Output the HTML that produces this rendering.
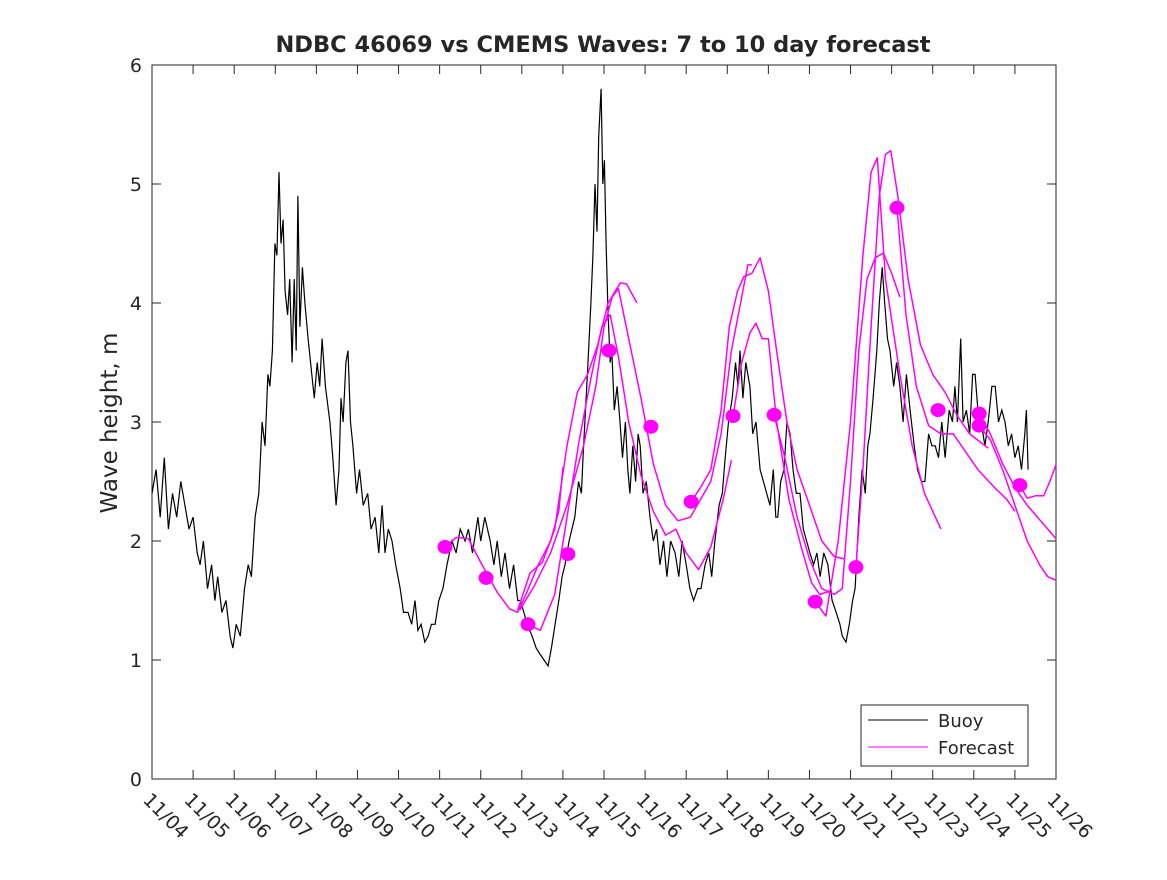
<!DOCTYPE html>
<html><head><meta charset="utf-8"><style>
html,body{margin:0;padding:0;background:#fff;}
svg text{font-family:"DejaVu Sans","Liberation Sans",sans-serif;fill:#262626;}
</style></head><body>
<svg id="chart" width="1167" height="875" viewBox="0 0 1167 875" xmlns="http://www.w3.org/2000/svg">
<rect width="1167" height="875" fill="#fff"/>
<text x="603" y="52" text-anchor="middle" font-size="22.5" font-weight="bold" fill="#000">NDBC 46069 vs CMEMS Waves: 7 to 10 day forecast</text>
<text transform="translate(117,423) rotate(-90)" text-anchor="middle" font-size="23">Wave height, m</text>
<g id="axes"></g>
<g id="plot"></g>
</svg>
<script>
const xTickLabels=["11/04","11/05","11/06","11/07","11/08","11/09","11/10","11/11","11/12","11/13","11/14","11/15","11/16","11/17","11/18","11/19","11/20","11/21","11/22","11/23","11/24","11/25","11/26"];
const yTicks=[0,1,2,3,4,5,6];
const buoyDays=[0,0.1,0.2,0.3,0.4,0.5,0.6,0.7,0.8,0.9,1.0,1.1,1.17,1.25,1.35,1.45,1.53,1.6,1.7,1.8,1.9,1.97,2.05,2.15,2.25,2.34,2.42,2.51,2.6,2.68,2.75,2.82,2.87,2.93,2.99,3.04,3.09,3.14,3.19,3.24,3.3,3.35,3.41,3.46,3.51,3.55,3.6,3.66,3.72,3.8,3.89,3.95,4.02,4.08,4.14,4.22,4.33,4.4,4.48,4.55,4.6,4.65,4.72,4.77,4.83,4.89,4.98,5.05,5.14,5.25,5.33,5.43,5.52,5.6,5.67,5.75,5.84,5.93,6.04,6.12,6.23,6.32,6.4,6.47,6.55,6.64,6.72,6.8,6.89,6.98,7.08,7.18,7.3,7.4,7.5,7.62,7.7,7.8,7.93,8.0,8.1,8.23,8.32,8.4,8.5,8.59,8.7,8.8,8.9,8.96,9.05,9.13,9.25,9.35,9.44,9.54,9.64,9.72,9.81,9.9,9.98,10.05,10.15,10.22,10.29,10.38,10.45,10.49,10.55,10.61,10.68,10.73,10.78,10.83,10.87,10.93,10.97,11.01,11.05,11.1,11.15,11.19,11.25,11.32,11.39,11.45,11.52,11.58,11.63,11.7,11.77,11.83,11.88,11.95,12.03,12.12,12.2,12.28,12.36,12.45,12.53,12.62,12.73,12.82,12.9,13.0,13.09,13.18,13.28,13.36,13.46,13.55,13.62,13.7,13.8,13.88,13.95,14.03,14.12,14.2,14.26,14.31,14.38,14.45,14.55,14.62,14.7,14.8,14.88,14.96,15.04,15.12,15.18,15.23,15.3,15.38,15.45,15.53,15.6,15.68,15.77,15.85,15.93,16.01,16.1,16.18,16.26,16.35,16.45,16.55,16.65,16.74,16.8,16.89,16.97,17.05,17.11,17.2,17.28,17.36,17.42,17.47,17.55,17.64,17.7,17.77,17.83,17.9,17.96,18.05,18.12,18.2,18.28,18.36,18.45,18.55,18.63,18.72,18.81,18.9,18.98,19.06,19.14,19.22,19.3,19.4,19.48,19.54,19.6,19.68,19.74,19.82,19.9,19.97,20.03,20.1,20.18,20.27,20.35,20.44,20.52,20.6,20.68,20.76,20.84,20.92,21.0,21.08,21.16,21.24,21.28,21.32];
const buoyVals=[2.4,2.6,2.2,2.7,2.1,2.4,2.2,2.5,2.3,2.1,2.2,1.9,1.8,2.0,1.6,1.8,1.5,1.7,1.4,1.5,1.2,1.1,1.3,1.2,1.6,1.8,1.7,2.2,2.4,3.0,2.8,3.4,3.3,3.6,4.5,4.4,5.1,4.5,4.7,4.1,3.9,4.2,3.5,4.2,3.6,4.9,3.8,4.3,4.0,3.7,3.4,3.2,3.5,3.3,3.7,3.3,3.0,2.7,2.3,2.6,3.2,3.0,3.5,3.6,3.0,2.8,2.4,2.6,2.3,2.4,2.1,2.2,1.9,2.3,1.9,2.1,2.0,1.8,1.6,1.4,1.4,1.3,1.5,1.25,1.3,1.15,1.2,1.3,1.3,1.5,1.6,1.8,2.0,1.9,2.1,2.0,2.1,1.9,2.2,2.0,2.2,2.0,1.8,2.0,1.7,1.9,1.6,1.8,1.5,1.5,1.4,1.3,1.2,1.1,1.05,1.0,0.95,1.1,1.3,1.5,1.7,1.8,2.0,2.1,2.2,2.5,2.4,2.7,3.1,3.5,4.0,4.4,5.0,4.6,5.4,5.8,5.0,5.2,4.5,3.9,3.5,3.6,3.1,3.3,3.0,2.7,3.0,2.6,2.4,2.8,2.5,2.9,2.8,2.4,2.5,2.2,2.0,2.1,1.8,2.0,1.7,2.0,1.9,1.7,2.0,1.8,1.6,1.5,1.6,1.6,1.8,1.9,1.7,2.0,2.3,2.4,2.7,3.0,3.2,3.5,3.3,3.6,3.2,3.5,3.3,2.9,3.0,2.6,2.5,2.4,2.3,2.6,2.2,2.2,2.5,2.6,3.0,2.9,2.6,2.4,2.4,2.1,2.0,1.9,1.8,1.9,1.7,1.9,1.8,1.5,1.4,1.3,1.2,1.15,1.3,1.5,1.6,2.2,2.6,2.4,2.8,2.9,3.2,3.6,4.0,4.3,4.0,3.7,3.6,3.3,3.5,3.3,3.0,3.4,3.1,2.8,2.6,2.5,2.5,2.9,2.8,2.8,2.7,3.0,2.7,3.1,3.0,3.3,3.0,3.7,3.0,3.1,2.9,3.4,3.4,3.1,3.0,2.8,3.0,3.3,3.3,3.0,3.1,3.0,2.8,2.9,2.7,2.8,2.6,2.9,3.1,2.6];
const forecast1=[[7.13,1.95],[7.4,2.03],[7.7,2.02],[8.0,1.82],[8.4,1.57],[8.7,1.43],[8.9,1.40],[9.1,1.55],[9.4,1.8],[9.7,2.0],[9.9,2.25],[10.0,2.62]];
const forecast2=[[8.9,1.42],[9.2,1.73],[9.5,1.82],[9.8,2.1],[10.1,2.8],[10.35,3.25],[10.6,3.4],[10.85,3.65],[11.1,4.0],[11.4,4.17],[11.55,4.16],[11.8,4.0]];
const forecast3=[[8.95,1.42],[9.3,1.62],[9.7,1.9],[10.1,2.3],[10.5,2.8],[10.8,3.3],[11.0,3.8],[11.2,4.05],[11.35,4.12],[11.6,3.7],[11.9,3.2],[12.2,2.65],[12.5,2.3],[12.8,2.17],[13.1,2.2],[13.35,2.35],[13.6,2.5],[13.85,2.9],[14.1,3.6],[14.35,4.05],[14.5,4.32],[14.6,4.32]];
const forecast4=[[9.15,1.3],[9.45,1.25],[9.8,1.55],[10.1,2.2],[10.4,2.85],[10.7,3.4],[10.95,3.8],[11.15,3.9],[11.35,3.55],[11.6,3.0],[11.9,2.55],[12.2,2.25],[12.5,2.05],[12.75,2.1],[13.0,1.9],[13.3,1.76],[13.6,1.95],[13.9,2.35],[14.1,2.68]];
const forecast5=[[13.12,2.33],[13.35,2.45],[13.6,2.6],[13.85,3.1],[14.05,3.8],[14.25,4.1],[14.4,4.22],[14.6,4.25],[14.8,4.38],[15.0,4.1],[15.2,3.6],[15.45,3.0],[15.7,2.6],[16.0,2.3],[16.3,2.0],[16.6,1.87],[16.85,1.85]];
const forecast6=[[14.14,3.05],[14.35,3.5],[14.55,3.75],[14.7,3.83],[14.85,3.7],[15.0,3.7],[15.2,3.0],[15.5,2.35],[15.8,1.95],[16.05,1.65],[16.25,1.55],[16.5,1.58]];
const forecast7=[[16.14,1.49],[16.4,1.37],[16.7,2.0],[17.0,3.0],[17.3,4.4],[17.5,5.1],[17.65,5.22],[17.85,4.2],[18.2,3.4],[18.5,2.8],[18.8,2.4],[19.2,2.1]];
const forecast8=[[15.14,3.06],[15.4,2.7],[15.7,2.2],[16.0,1.85],[16.3,1.6],[16.6,1.55],[16.8,1.6],[17.0,2.5],[17.2,3.6],[17.4,4.2],[17.6,4.38],[17.8,4.42],[18.0,4.25],[18.2,4.05]];
const forecast9=[[17.13,1.78],[17.3,2.6],[17.5,3.8],[17.7,4.9],[17.85,5.25],[17.98,5.28],[18.15,4.9],[18.4,4.2],[18.7,3.65],[19.0,3.4],[19.3,3.25],[19.6,3.05],[19.9,2.9],[20.2,2.82],[20.35,2.78]];
const forecast10=[[18.13,4.8],[18.35,3.9],[18.6,3.3],[18.9,2.97],[19.2,2.9],[19.5,2.9],[19.8,2.75],[20.1,2.6],[20.5,2.45],[20.8,2.35],[21.0,2.25]];
const forecast11=[[21.12,2.47],[21.3,2.36],[21.5,2.38],[21.7,2.38],[21.85,2.5],[22.0,2.64]];
const forecast12=[[20.13,3.07],[20.4,2.9],[20.7,2.65],[21.0,2.45],[21.3,2.3],[21.55,2.2],[21.8,2.1],[22.0,2.02]];
const forecast13=[[20.13,2.97],[20.4,2.85],[20.7,2.6],[21.0,2.3],[21.3,2.0],[21.6,1.8],[21.8,1.7],[22.0,1.67]];
const dotDays=[7.13,8.13,9.15,10.12,11.12,12.14,13.12,14.14,15.14,16.14,17.13,18.13,19.13,20.13,20.13,21.12];
const dotVals=[1.95,1.69,1.30,1.89,3.60,2.96,2.33,3.05,3.06,1.49,1.78,4.80,3.10,3.07,2.97,2.47];

const NS="http://www.w3.org/2000/svg";
const X0=152,X1=1056,Y0=779,Y1=65;
const xS=d=>X0+d*(X1-X0)/22;
const yS=v=>Y0-v*(Y0-Y1)/6;
function mk(tag,attrs,parent){const e=document.createElementNS(NS,tag);for(const k in attrs)e.setAttribute(k,attrs[k]);parent.appendChild(e);return e;}
const axes=document.getElementById('axes'),plot=document.getElementById('plot');

const frame=mk('rect',{x:X0,y:Y1,width:X1-X0,height:Y0-Y1,fill:'none',stroke:'#262626','stroke-width':1},axes);


yTicks.forEach(v=>{
  const y=yS(v);
  mk('line',{x1:X0,x2:X0+9,y1:y,y2:y,stroke:'#262626'},axes);
  mk('line',{x1:X1,x2:X1-9,y1:y,y2:y,stroke:'#262626'},axes);
  const t=mk('text',{x:X0-10,y:y+7,'text-anchor':'end','font-size':19},axes);
  t.textContent=v;
  
  
});
xTickLabels.forEach((lab,i)=>{
  const x=xS(i);
  mk('line',{x1:x,x2:x,y1:Y0,y2:Y0-9,stroke:'#262626'},axes);
  mk('line',{x1:x,x2:x,y1:Y1,y2:Y1+9,stroke:'#262626'},axes);
  const t=mk('text',{transform:`translate(${x-10},${Y0+22}) rotate(45)`,'font-size':19},axes);
  t.textContent=lab;
  
  
});

const bp=buoyDays.map((d,i)=>xS(d).toFixed(1)+','+yS(buoyVals[i]).toFixed(1)).join(' ');
const buoy=mk('polyline',{points:bp,fill:'none',stroke:'#000','stroke-width':1.2,'stroke-linejoin':'miter'},plot);



[forecast1,forecast2,forecast3,forecast4,forecast5,forecast6,forecast7,forecast8,forecast9,forecast10,forecast11,forecast12,forecast13].forEach(f=>{
  const p=f.map(q=>xS(q[0]).toFixed(1)+','+yS(q[1]).toFixed(1)).join(' ');
  const l=mk('polyline',{points:p,fill:'none',stroke:'#ff00ff','stroke-width':1.5,'stroke-linejoin':'round'},plot);
  
  
});
dotDays.forEach((d,i)=>{
  const c=mk('ellipse',{cx:xS(d),cy:yS(dotVals[i]),rx:7.5,ry:7,fill:'#ff00ff'},plot);
  
  
});

const lg=mk('g',{},plot);


mk('rect',{x:861,y:705,width:167,height:61,fill:'#fff',stroke:'#262626'},lg);
mk('line',{x1:868,x2:928,y1:720,y2:720,stroke:'#000','stroke-width':1},lg);
mk('line',{x1:868,x2:928,y1:747,y2:747,stroke:'#ff00ff','stroke-width':1},lg);
const t1=mk('text',{x:938,y:727,'font-size':18},lg);t1.textContent='Buoy';


const t2=mk('text',{x:938,y:754,'font-size':18},lg);t2.textContent='Forecast';


</script>
</body></html>
